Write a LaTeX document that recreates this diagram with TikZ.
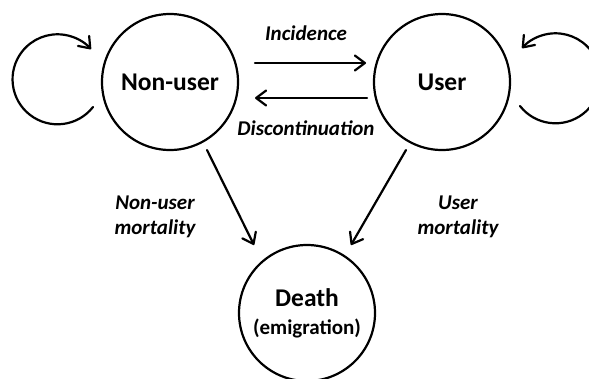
\documentclass[tikz,border=0pt]{standalone}
\usepackage{fontspec}
\setmainfont{Carlito}
\usetikzlibrary{arrows.meta}
\begin{document}
\begin{tikzpicture}[x=1pt,y=-1pt,
  state/.style={circle,draw,line width=2.2pt,minimum size=136pt,inner sep=0pt,
    font=\fontsize{25.5}{30}\selectfont\bfseries},
  conn/.style={line width=2.2pt,line cap=round,
    -{Straight Barb[length=10pt,width=15pt,line cap=round,line join=round]}},
  lab/.style={font=\fontsize{21}{25}\selectfont\bfseries\itshape,align=center}]
\clip (0,0) rectangle (589,378);
% states
\node[state] (nu) at (170,82) {Non-user};
\node[state] (us) at (442,82) {User};
\node[state,align=center] (de) at (307,313) {Death\\[-2pt]{\fontsize{21}{25}\selectfont(emigration)}};
% connector end points
\coordinate (incA) at (255,63);
\coordinate (incB) at (366,63);
\coordinate (disA) at (367,98);
\coordinate (disB) at (255,98);
\coordinate (numA) at (207,150);
\coordinate (numB) at (254,245);
\coordinate (usmA) at (406,150);
\coordinate (usmB) at (351,245);
\coordinate (nuloop) at (93,107);
\coordinate (usloop) at (520,106);
% connectors
\draw[conn] (incA) -- (incB);
\draw[conn] (disA) -- (disB);
\draw[conn] (numA) -- (numB);
\draw[conn] (usmA) -- (usmB);
\draw[conn] (nuloop) arc[start angle=38,end angle=318,radius=45];
\draw[conn] (usloop) arc[start angle=142,end angle=-138,radius=45];
% labels
\node[lab] (linc) at (306,33) {Incidence};
\node[lab] (ldis) at (306,128) {Discontinuation};
\node[lab] (lnum) at (155,217) {Non-user\\mortality};
\node[lab] (lusm) at (458,217) {User\\mortality};
\end{tikzpicture}
\end{document}
